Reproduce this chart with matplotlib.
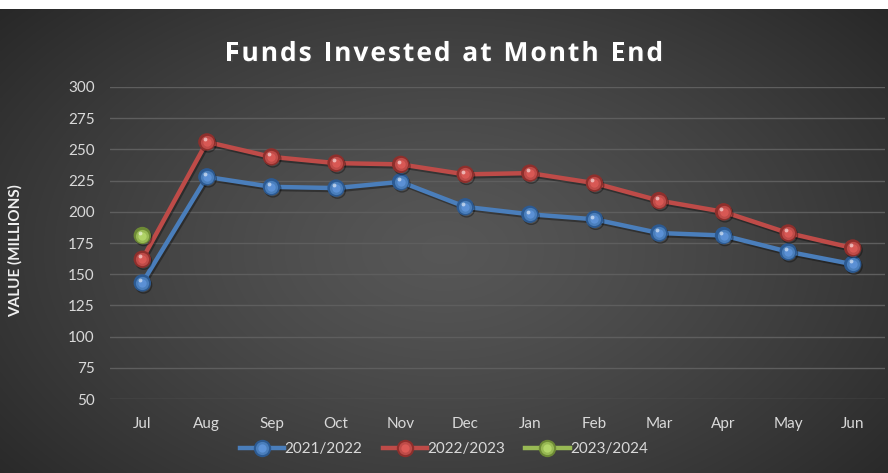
import numpy as np
import matplotlib
matplotlib.use("Agg")
import matplotlib.pyplot as plt
from matplotlib.lines import Line2D
from matplotlib.legend_handler import HandlerTuple
import matplotlib.patheffects as pe
import matplotlib.transforms as mtransforms

months = ["Jul", "Aug", "Sep", "Oct", "Nov", "Dec", "Jan", "Feb", "Mar", "Apr", "May", "Jun"]
fy2122 = [143, 228, 220, 219, 224, 204, 198, 194, 183, 181, 168, 158]
fy2223 = [162, 256, 244, 239, 238, 230, 231, 223, 209, 200, 183, 171]
fy2324 = [181]
series_names = ["2021/2022", "2022/2023", "2023/2024"]
y_ticks = [50, 75, 100, 125, 150, 175, 200, 225, 250, 275, 300]
title = "Funds Invested at Month End"

colors = ["#4a7ebb", "#be4b48", "#98b954"]
mid_colors = ["#5d93d8", "#dc5a56", "#b3d66a"]
dark_colors = ["#2c5a92", "#8e2f2c", "#6d8a35"]

plt.rcParams["font.family"] = ["Lato", "DejaVu Sans"]

W, H = 888, 473
fig = plt.figure(figsize=(W / 100, H / 100), dpi=100)
fig.patch.set_facecolor("white")

# radial gradient backdrop below the thin white strip at the top
top_px = 9
bg = fig.add_axes([0, 0, 1, (H - top_px) / H], zorder=-5)
yy, xx = np.mgrid[0:1:300j, 0:1:500j]
r = np.sqrt(((xx - 0.5) / 0.62) ** 2 + ((yy - 0.52) / 0.75) ** 2)
shade = np.clip(0.34 - 0.17 * r ** 1.3, 0.15, 0.34)
img = np.dstack([shade, shade, shade])
bg.imshow(img, extent=[0, 1, 0, 1], aspect="auto", interpolation="bilinear")
bg.set_axis_off()

ax = fig.add_axes([110 / W, 1 - 399 / H, (885 - 110) / W, (399 - 87) / H])
ax.set_facecolor("none")
x = np.arange(len(months))
ax.set_xlim(-0.5, len(months) - 0.5)
ax.set_ylim(50, 300)
ax.set_yticks(y_ticks)
ax.set_xticks(x)
ax.set_xticklabels(months)
ax.grid(axis="y", color="#5e5e5e", linewidth=1.0)
ax.set_axisbelow(True)
for s in ax.spines.values():
    s.set_visible(False)
ax.tick_params(axis="both", length=0, colors="#d9d9d9", labelsize=11)
ax.tick_params(axis="y", pad=11)
ax.tick_params(axis="x", pad=13)

shadow = [pe.SimpleLineShadow(offset=(1, -1.5), shadow_color="black", alpha=0.35), pe.Normal()]
hl_offset = mtransforms.ScaledTranslation(-1.5 / 72, 2.0 / 72, fig.dpi_scale_trans)

data = [fy2122, fy2223, fy2324]
handles = []
for i, vals in enumerate(data):
    xs = x[:len(vals)]
    ax.plot(xs, vals, color=colors[i], linewidth=3.2, solid_capstyle="round",
            zorder=3, path_effects=shadow)
    # layered markers give a glossy sphere look
    ax.plot(xs, vals, linestyle="none", marker="o", markersize=11.5,
            markerfacecolor=dark_colors[i], markeredgecolor=dark_colors[i],
            zorder=4, path_effects=shadow)
    ax.plot(xs, vals, linestyle="none", marker="o", markersize=9.5,
            markerfacecolor=colors[i], markeredgewidth=0, zorder=5)
    ax.plot(xs, vals, linestyle="none", marker="o", markersize=6,
            markerfacecolor=mid_colors[i], markeredgewidth=0, alpha=0.9, zorder=6)
    ax.plot(xs, vals, linestyle="none", marker="o", markersize=2.8,
            markerfacecolor="white", markeredgewidth=0, alpha=0.55, zorder=7,
            transform=ax.transData + hl_offset)
    h = (Line2D([], [], color=colors[i], linewidth=3.2),
         Line2D([], [], linestyle="none", marker="o", markersize=11.5,
                markerfacecolor=dark_colors[i], markeredgecolor=dark_colors[i]),
         Line2D([], [], linestyle="none", marker="o", markersize=9.5,
                markerfacecolor=colors[i], markeredgewidth=0),
         Line2D([], [], linestyle="none", marker="o", markersize=6,
                markerfacecolor=mid_colors[i], markeredgewidth=0))
    handles.append(h)

fig.legend(handles, series_names, loc="center", bbox_to_anchor=(0.5, 1 - 449 / H),
           ncol=3, frameon=False, fontsize=11, handlelength=2.9, handletextpad=0.05,
           columnspacing=1.3, labelcolor="#d9d9d9",
           handler_map={tuple: HandlerTuple(ndivide=1, pad=0)})

# title drawn with extra letter tracking
title_kw = dict(color="white", fontsize=19, fontweight="bold",
                family=["Open Sans", "DejaVu Sans"], va="baseline", ha="left",
                path_effects=[pe.withSimplePatchShadow(offset=(1, -1), alpha=0.5)])
renderer = fig.canvas.get_renderer()
tracking = 2.0  # px
widths = []
for ch in title:
    t = fig.text(0, 0, ch if ch != " " else "n", **title_kw)
    bb = t.get_window_extent(renderer)
    w = bb.width if ch != " " else bb.width * 0.45
    widths.append(w)
    t.remove()
total = sum(widths) + tracking * (len(title) - 1)
xpos = (W - total) / 2
base_y = 1 - 61 / H
for ch, w in zip(title, widths):
    if ch != " ":
        fig.text(xpos / W, base_y, ch, **title_kw)
    xpos += w + tracking

fig.text(15 / W, 1 - 251 / H, "VALUE (MILLIONS)", rotation=90, ha="center", va="center",
         color="#f0f0f0", fontsize=11, fontweight="bold")

fig.savefig("out.png", dpi=100, facecolor=fig.get_facecolor())
